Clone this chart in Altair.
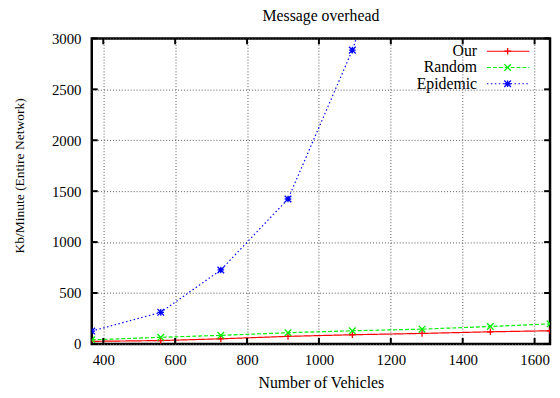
import altair as alt
import pandas as pd

vehicles = [368, 560, 727, 914, 1093, 1287, 1477, 1643]
our = [25, 33, 50, 74, 90, 103, 119, 129]
random_vals = [40, 65, 84, 110, 129, 145, 171, 197]
epidemic = [126, 310, 726, 1423, 2885, 4900]
series = ["Our", "Random", "Epidemic"]
colors = ["#ff0000", "#00ee00", "#0000ff"]
x_ticks = [400, 600, 800, 1000, 1200, 1400, 1600]
y_ticks = [0, 500, 1000, 1500, 2000, 2500, 3000]

rows = []
for name, vals in zip(series, [our, random_vals, epidemic]):
    for xv, yv in zip(vehicles, vals):
        rows.append({"series": name, "vehicles": xv, "kb": yv})
df = pd.DataFrame(rows)

W, H = 465, 310
FONT = "Liberation Serif"
FS = 15

plus = "M-1,0L1,0M0,-1L0,1"
cross = "M-1,-1L1,1M-1,1L1,-1"
star = plus + cross

color_scale = alt.Scale(domain=series, range=colors)
dash_scale = alt.Scale(domain=series, range=[[1, 0], [4, 2], [1.5, 2.5]])
shape_scale = alt.Scale(domain=series, range=[plus, cross, star])

xs = alt.Scale(domain=[368, 1643], nice=False, zero=False)
ys = alt.Scale(domain=[0, 3000], nice=False)

x_axis = alt.Axis(values=x_ticks, title="Number of Vehicles", grid=True, format="d",
                  titleX=W / 2, titleY=39, titleBaseline="middle", titleFontSize=16,
                  labelPadding=9)
y_axis = alt.Axis(values=y_ticks, title="Kb/Minute (Entire Network)", grid=True, format="d",
                  titleX=-73, titleY=139, titleBaseline="middle", titleFontSize=13.7,
                  labelPadding=11)

base = alt.Chart(df)

lines = base.mark_line(clip=True, strokeWidth=1.2).encode(
    x=alt.X("vehicles:Q", scale=xs, axis=x_axis),
    y=alt.Y("kb:Q", scale=ys, axis=y_axis),
    color=alt.Color("series:N", scale=color_scale, legend=None),
    strokeDash=alt.StrokeDash("series:N", scale=dash_scale, legend=None),
    detail="series:N",
)

points = base.mark_point(clip=True, filled=False, strokeWidth=1.3, size=45, opacity=1).encode(
    x=alt.X("vehicles:Q", scale=xs, axis=x_axis),
    y=alt.Y("kb:Q", scale=ys, axis=y_axis),
    color=alt.Color("series:N", scale=color_scale, legend=None),
    shape=alt.Shape("series:N", scale=shape_scale, legend=None),
)

ytick_df = pd.DataFrame({"t": y_ticks})
xtick_df = pd.DataFrame({"t": x_ticks})

yt_left = alt.Chart(ytick_df).mark_rule(color="black", strokeWidth=2).encode(
    y=alt.Y("t:Q", scale=ys, axis=y_axis), x=alt.value(0), x2=alt.value(6))
yt_right = alt.Chart(ytick_df).mark_rule(color="black", strokeWidth=2).encode(
    y=alt.Y("t:Q", scale=ys, axis=y_axis), x=alt.value(W - 6), x2=alt.value(W))
xt_bot = alt.Chart(xtick_df).mark_rule(color="black", strokeWidth=2).encode(
    x=alt.X("t:Q", scale=xs, axis=x_axis), y=alt.value(H - 6), y2=alt.value(H))
xt_top = alt.Chart(xtick_df).mark_rule(color="black", strokeWidth=2).encode(
    x=alt.X("t:Q", scale=xs, axis=x_axis), y=alt.value(0), y2=alt.value(6))

leg_df = pd.DataFrame({"series": series, "row": [0, 1, 2]})
leg = alt.Chart(leg_df).transform_calculate(py="13 + datum.row * 16.5")
leg_text = leg.mark_text(align="right", baseline="middle", font=FONT, fontSize=16, color="black").encode(
    x=alt.value(391), y=alt.Y("py:Q", scale=None), text="series:N")
leg_line = leg.mark_rule(strokeWidth=1.2).encode(
    x=alt.value(401), x2=alt.value(444), y=alt.Y("py:Q", scale=None),
    color=alt.Color("series:N", scale=color_scale, legend=None),
    strokeDash=alt.StrokeDash("series:N", scale=dash_scale, legend=None))
leg_pt = leg.mark_point(filled=False, strokeWidth=1.3, size=45, opacity=1).encode(
    x=alt.value(422), y=alt.Y("py:Q", scale=None),
    color=alt.Color("series:N", scale=color_scale, legend=None),
    shape=alt.Shape("series:N", scale=shape_scale, legend=None))

chart = alt.layer(
    lines, points, yt_left, yt_right, xt_bot, xt_top, leg_line, leg_pt, leg_text
).properties(
    width=W, height=H,
    background="white",
    title=alt.TitleParams("Message overhead", font=FONT, fontSize=16, fontWeight="normal",
                          color="black", offset=8, anchor="middle"),
    autosize=alt.AutoSizeParams(type="none"),
    padding={"left": 85, "top": 28, "right": 2, "bottom": 50},
).configure_view(
    stroke="black", strokeWidth=2.5
).configure_axis(
    domain=False, ticks=False, tickSize=0,
    gridColor="#555555", gridDash=[1, 2], gridWidth=1, gridOpacity=1,
    labelFont=FONT, labelFontSize=FS, labelColor="black",
    titleFont=FONT, titleFontWeight="normal", titleColor="black",
)

chart.save("out.html", embed_options={"renderer": "svg", "actions": False})
